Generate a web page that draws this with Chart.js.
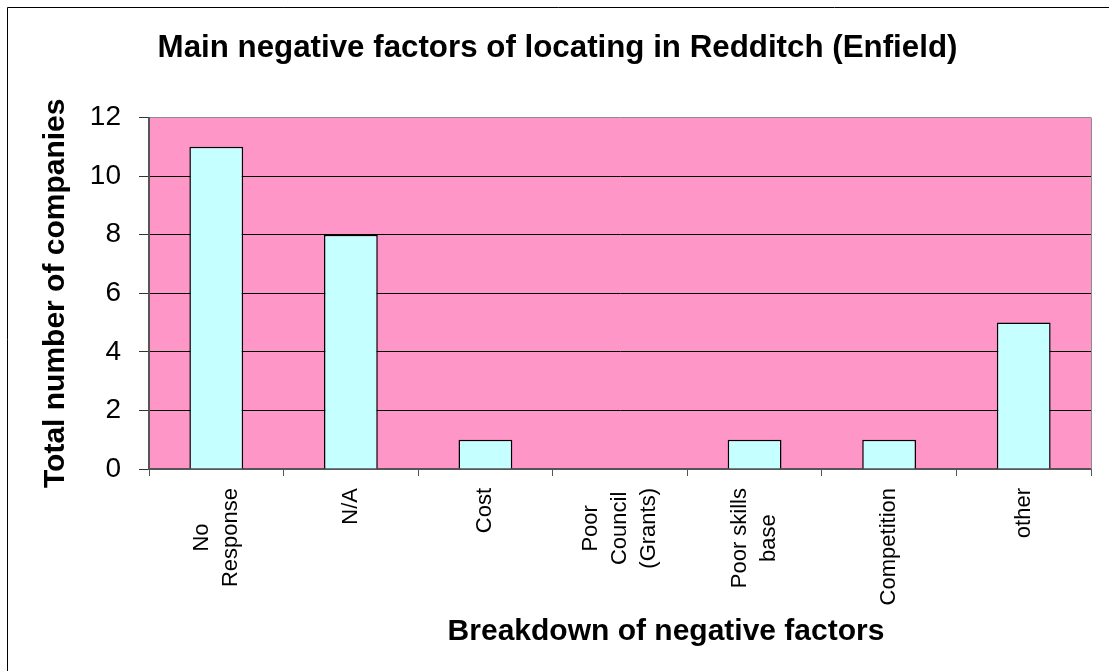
<!DOCTYPE html>
<html>
<head>
<meta charset="utf-8">
<script src="https://cdn.jsdelivr.net/npm/chart.js@4/dist/chart.umd.min.js"></script>
<style>
  html, body { margin: 0; padding: 0; background: #fff; }
  #wrap { width: 1109px; height: 671px; position: relative; }
</style>
</head>
<body>
<div id="wrap"><canvas id="factorsChart"></canvas></div>
<script>
const FONT = "'Liberation Sans', Arial, sans-serif";

const categories = [['No', 'Response'], 'N/A', 'Cost', ['Poor', 'Council', '(Grants)'], ['Poor skills', 'base'], 'Competition', 'other'];
const companyCounts = [11, 8, 1, 0, 1, 1, 5];
const yMin = 0, yMax = 12, yStep = 2;

const chartTitle = 'Main negative factors of locating in Redditch (Enfield)';
const xTitle = 'Breakdown of negative factors';
const yTitle = 'Total number of companies';

// white page, outer frame and pink plot area
const backdrop = {
    id: 'backdrop',
    beforeDraw(chart) {
        const { ctx, chartArea: a } = chart;
        ctx.save();
        ctx.fillStyle = '#fff';
        ctx.fillRect(0, 0, chart.width, chart.height);
        ctx.strokeStyle = '#000';
        ctx.lineWidth = 1;
        ctx.beginPath();
        ctx.moveTo(7.5, chart.height + 5);
        ctx.lineTo(7.5, 7.5);
        ctx.lineTo(chart.width + 5, 7.5);
        ctx.stroke();
        ctx.fillStyle = '#FF96C8';
        ctx.fillRect(a.left, a.top, a.right - a.left, a.bottom - a.top);
        ctx.restore();
    },
    beforeDatasetsDraw(chart) {
        const { ctx, chartArea: a } = chart;
        ctx.save();
        ctx.strokeStyle = '#8c8c8c';
        ctx.lineWidth = 1;
        ctx.beginPath();
        ctx.moveTo(a.right + 0.5, a.top);
        ctx.lineTo(a.right + 0.5, a.bottom);
        ctx.stroke();
        ctx.restore();
    },
    // vertical category labels with centred lines, plus the x axis title
    afterDraw(chart) {
        const { ctx } = chart;
        const x = chart.scales.x;
        ctx.save();
        ctx.fillStyle = '#000';
        ctx.font = '22px ' + FONT;
        ctx.textAlign = 'center';
        ctx.textBaseline = 'middle';
        categories.forEach((label, i) => {
            const lines = Array.isArray(label) ? label : [label];
            const w = Math.max(...lines.map(l => ctx.measureText(l).width));
            const cx = x.getPixelForValue(i);
            ctx.save();
            ctx.translate(cx, x.top + 19);
            ctx.rotate(-Math.PI / 2);
            lines.forEach((l, j) => {
                ctx.fillText(l, -w / 2, (j - (lines.length - 1) / 2) * 29);
            });
            ctx.restore();
        });
        ctx.font = 'bold 30px ' + FONT;
        ctx.fillText(xTitle, 666, 632);
        ctx.restore();
    }
};

new Chart(document.getElementById('factorsChart'), {
    type: 'bar',
    data: {
        labels: categories,
        datasets: [{
            data: companyCounts,
            backgroundColor: '#C6FFFF',
            borderColor: '#000',
            borderWidth: 1.5,
            barPercentage: 0.4,
            categoryPercentage: 1
        }]
    },
    options: {
        responsive: true,
        maintainAspectRatio: false,
        animation: false,
        layout: { padding: { left: 24, right: 18, top: 0, bottom: 0 } },
        plugins: {
            legend: { display: false },
            tooltip: { enabled: false },
            title: {
                display: true,
                text: chartTitle,
                color: '#000',
                font: { family: FONT, size: 31.3, weight: 'bold', lineHeight: 1.2 },
                padding: { top: 30, bottom: 50 }
            }
        },
        scales: {
            x: {
                offset: true,
                afterFit(scale) { scale.height = 202; },
                grid: { offset: true, drawOnChartArea: false, drawTicks: true, tickLength: 7, color: '#555', lineWidth: 1 },
                border: { display: true, color: '#555', width: 2 },
                ticks: { display: false }
            },
            y: {
                min: yMin,
                max: yMax,
                afterFit(scale) { scale.width = 125; },
                grid: {
                    color: c => (c.tick && c.tick.value === yMax ? '#8c8c8c' : '#000'),
                    tickColor: '#333',
                    lineWidth: 1,
                    drawTicks: true,
                    tickLength: 10
                },
                border: { display: true, color: '#555', width: 2 },
                ticks: {
                    stepSize: yStep,
                    padding: 18,
                    color: '#000',
                    font: { family: FONT, size: 28 }
                },
                title: {
                    display: true,
                    text: yTitle,
                    color: '#000',
                    font: { family: FONT, size: 30, weight: 'bold', lineHeight: 1.2 },
                    padding: { top: 14, bottom: 0 }
                }
            }
        }
    },
    plugins: [backdrop]
});
</script>
</body>
</html>
